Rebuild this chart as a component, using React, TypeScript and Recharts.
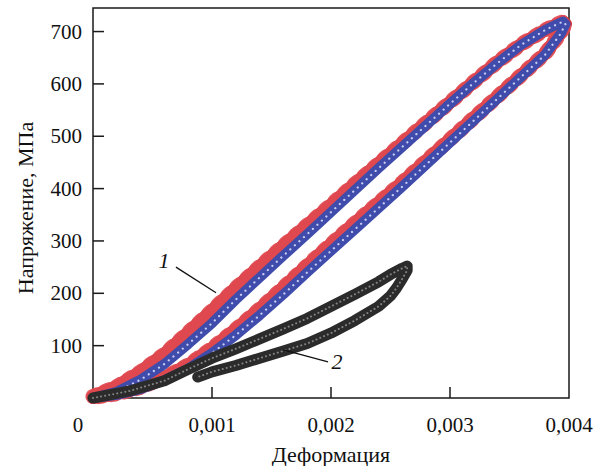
import React from 'react';
import { LineChart, Line, XAxis, YAxis, ReferenceArea, ReferenceLine, ReferenceDot } from 'recharts';

const FONT = '"Liberation Serif", "Times New Roman", serif';

const xTicks = [0, 0.001, 0.002, 0.003, 0.004];
const xTickLabels = ['0', '0,001', '0,002', '0,003', '0,004'];
const yTicks = [100, 200, 300, 400, 500, 600, 700];
const xTitle = 'Деформация';
const yTitle = 'Напряжение, МПа';

// Curve 1 (blue core) — loading branch then unloading branch
const c1BlueStrain = [0, 0.0002, 0.0004, 0.0006, 0.0008, 0.001, 0.0012, 0.0014, 0.0016, 0.0018, 0.002, 0.0022, 0.0024, 0.0026, 0.0028, 0.003, 0.0032, 0.0034, 0.0036, 0.0038, 0.0039, 0.00395,
  0.00397, 0.00393, 0.0038, 0.0036, 0.0034, 0.0032, 0.003, 0.0028, 0.0026, 0.0024, 0.0022, 0.002, 0.0018, 0.0016, 0.0014, 0.0012, 0.001, 0.0008, 0.0006, 0.0004, 0.0002, 0];
const c1BlueStress = [0, 12, 35, 65, 103, 143, 188, 230, 272, 313, 355, 397, 439, 480, 521, 562, 602, 640, 675, 703, 714, 719,
  714, 696, 656, 614, 572, 530, 488, 446, 404, 363, 322, 281, 240, 198, 158, 120, 86, 56, 34, 17, 6, 0];

// Curve 1 (red halo)
const c1RedStrain = [0, 0.0002, 0.0004, 0.0006, 0.0008, 0.001, 0.0012, 0.0014, 0.0016, 0.0018, 0.002, 0.0022, 0.0024, 0.0026, 0.0028, 0.003, 0.0032, 0.0034, 0.0036, 0.0038, 0.0039, 0.00395,
  0.00397, 0.00393, 0.0038, 0.0036, 0.0034, 0.0032, 0.003, 0.0028, 0.0026, 0.0024, 0.0022, 0.002, 0.0018, 0.0016, 0.0014, 0.0012, 0.001, 0.0008, 0.0006, 0.0004, 0.0002, 0];
const c1RedStress = [3, 22, 50, 84, 125, 167, 210, 251, 291, 330, 369, 409, 448, 487, 526, 565, 604, 642, 676, 703, 714, 719,
  714, 697, 658, 617, 576, 535, 494, 453, 412, 373, 334, 294, 253, 211, 170, 131, 95, 63, 39, 20, 8, 1];

// Curve 2 (black)
const c2Strain = [0, 0.0003, 0.0006, 0.0008, 0.001, 0.0012, 0.0014, 0.0016, 0.0018, 0.002, 0.0022, 0.0024, 0.0025, 0.0026, 0.00264,
  0.00264, 0.0026, 0.00255, 0.0025, 0.0024, 0.0022, 0.002, 0.0018, 0.0016, 0.0014, 0.0012, 0.001, 0.00088];
const c2Stress = [0, 13, 33, 55, 76, 94, 113, 132, 152, 175, 198, 222, 236, 248, 252,
  244, 228, 210, 195, 175, 148, 124, 104, 90, 76, 62, 50, 40];

// Annotations (data coordinates)
const label1 = { x: 0.000597, y: 264, text: '1' };
const pointer1 = [{ x: 0.000697, y: 250 }, { x: 0.001034, y: 201 }];
const label2 = { x: 0.00205, y: 71, text: '2' };
const pointer2 = [{ x: 0.0016, y: 92 }, { x: 0.001975, y: 69 }];

const toData = (xs: number[], ys: number[]) => xs.map((x, i) => ({ x, y: ys[i] }));
const c1Blue = toData(c1BlueStrain, c1BlueStress);
const c1Red = toData(c1RedStrain, c1RedStress);
const c2 = toData(c2Strain, c2Stress);

const XTick = (props: any) => {
  const { x, y, payload, index } = props;
  const v = payload.value;
  const edge = v === 0 || v === 0.004;
  return (
    <g>
      {!edge && <line x1={x} x2={x} y1={y} y2={y - 11} stroke="#1a1a1a" strokeWidth={1.5} />}
      <text x={x + (v === 0 ? -15 : 0)} y={y + 34} textAnchor="middle" fontSize={21} fontFamily={FONT} fill="#111">
        {xTickLabels[xTicks.indexOf(v)] ?? String(index)}
      </text>
    </g>
  );
};

const YTick = (props: any) => {
  const { x, y, payload } = props;
  return (
    <g>
      <line x1={x} x2={x + 11} y1={y} y2={y} stroke="#1a1a1a" strokeWidth={1.5} />
      <text x={x - 11} y={y + 7} textAnchor="end" fontSize={21} fontFamily={FONT} fill="#111">
        {payload.value}
      </text>
    </g>
  );
};

const lineCommon = {
  dataKey: 'y',
  dot: false,
  activeDot: false,
  isAnimationActive: false,
  type: 'linear' as const,
  strokeLinecap: 'round' as const,
  strokeLinejoin: 'round' as const,
  legendType: 'none' as const,
};

export default function App() {
  return (
    <div style={{ position: 'absolute', left: 0, top: 0, width: 593, height: 466, background: '#fff' }}>
      <LineChart width={593} height={466} margin={{ top: 8, right: 24, bottom: 0, left: 0 }}>
        <XAxis
          dataKey="x"
          type="number"
          domain={[0, 0.004]}
          ticks={xTicks}
          tick={<XTick />}
          tickSize={0}
          tickMargin={0}
          tickLine={false}
          axisLine={false}
          height={68}
          allowDuplicatedCategory={false}
        />
        <YAxis
          type="number"
          domain={[0, 745]}
          ticks={yTicks}
          tick={<YTick />}
          tickSize={0}
          tickMargin={0}
          tickLine={false}
          axisLine={false}
          width={93}
        />
        <ReferenceArea x1={0} x2={0.004} y1={0} y2={745} fill="none" fillOpacity={0} stroke="#1a1a1a" strokeWidth={1.5} />
        <Line {...lineCommon} data={c1Red} stroke="#d3333d" strokeWidth={13} />
        <Line {...lineCommon} data={c1Red} stroke="#e04a50" strokeWidth={15} strokeDasharray="4 9" strokeOpacity={0.9} />
        <Line {...lineCommon} data={c1Blue} stroke="#3f4cab" strokeWidth={10} />
        <Line {...lineCommon} data={c1Blue} stroke="#dfe4ff" strokeWidth={2.2} strokeDasharray="0.1 6" strokeOpacity={0.85} />
        <Line {...lineCommon} data={c2} stroke="#2b2b2b" strokeWidth={11} />
        <Line {...lineCommon} data={c2} stroke="#9a9a9a" strokeWidth={2} strokeDasharray="0.1 4" strokeOpacity={0.8} />
        <ReferenceLine segment={pointer1} stroke="#111" strokeWidth={1.3} />
        <ReferenceLine segment={pointer2} stroke="#111" strokeWidth={1.3} />
        <ReferenceDot x={label1.x} y={label1.y} r={0} fill="none" stroke="none"
          label={{ value: label1.text, position: 'center', fontSize: 22, fontStyle: 'italic', fontFamily: FONT, fill: '#111' }} />
        <ReferenceDot x={label2.x} y={label2.y} r={0} fill="none" stroke="none"
          label={{ value: label2.text, position: 'center', fontSize: 22, fontStyle: 'italic', fontFamily: FONT, fill: '#111' }} />
      </LineChart>
      <svg width={593} height={466} style={{ position: 'absolute', left: 0, top: 0, pointerEvents: 'none' }}>
        <text x={331} y={462} textAnchor="middle" fontSize={22} fontFamily={FONT} fill="#111">{xTitle}</text>
        <text x={0} y={0} transform="translate(33 208) rotate(-90)" textAnchor="middle" fontSize={22} fontFamily={FONT} fill="#111">{yTitle}</text>
      </svg>
    </div>
  );
}
